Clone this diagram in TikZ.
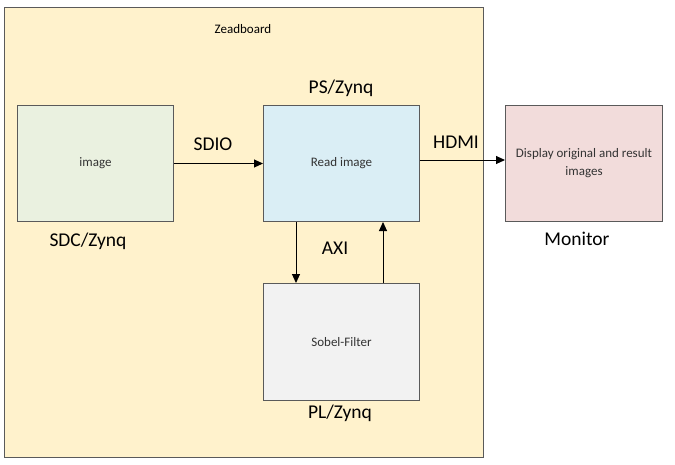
\documentclass[tikz,border=0pt]{standalone}
\usepackage{fontspec}
\setmainfont{Carlito}
\usetikzlibrary{arrows.meta}
\definecolor{boardfill}{HTML}{FFF2CC}
\definecolor{greenfill}{HTML}{EAF1E0}
\definecolor{bluefill}{HTML}{DAEEF5}
\definecolor{redfill}{HTML}{F2DCDB}
\definecolor{grayfill}{HTML}{F2F2F2}
\definecolor{edge}{HTML}{5A5A5A}
\definecolor{txt}{HTML}{333333}
\begin{document}
\begin{tikzpicture}[x=1pt,y=-1pt,
  blockbox/.style={draw=edge,line width=1pt,inner sep=0pt,anchor=north west,
    text=txt,font=\fontsize{13}{18}\selectfont,align=center},
  biglabel/.style={font=\fontsize{19.5}{23}\selectfont,text=black,inner sep=0pt},
  smalllabel/.style={font=\fontsize{13}{16}\selectfont,text=black,inner sep=0pt},
  conn/.style={line width=1pt,-{Triangle[length=9pt,width=8pt]}}]
\useasboundingbox (0,0) rectangle (675,464);
\fill[white] (0,0) rectangle (675,464);
\node[draw=edge,line width=1pt,fill=boardfill,anchor=north west,minimum width=479pt,minimum height=450pt,inner sep=0pt] (board) at (4,7) {};
\node[smalllabel] (zlab) at (243,29) {Zeadboard};
\node[blockbox,fill=greenfill,minimum width=156pt,minimum height=116pt] (img) at (17,105) {image};
\node[blockbox,fill=bluefill,minimum width=156pt,minimum height=116pt] (read) at (263,105) {Read image};
\node[blockbox,fill=redfill,minimum width=157pt,minimum height=116pt] (mon) at (505,105) {Display original and result\\images};
\node[blockbox,fill=grayfill,minimum width=156pt,minimum height=117pt] (sobel) at (263,283) {Sobel-Filter};
\node[biglabel] (pslab) at (341,88) {PS/Zynq};
\node[biglabel] (sdclab) at (88,241) {SDC/Zynq};
\node[biglabel] (sdiolab) at (213,144) {SDIO};
\node[biglabel] (hdmilab) at (456,142) {HDMI};
\node[biglabel] (monlab) at (577,239) {Monitor};
\node[biglabel] (axilab) at (335,248) {AXI};
\node[biglabel] (pllab) at (340,413) {PL/Zynq};
\coordinate (hdmiA) at (419,160);
\coordinate (hdmiB) at (505,160);
\draw[conn] (img.east) -- (read.west);
\draw[conn] (read.east |- hdmiA) -- (mon.west |- hdmiB);
\draw[conn] ([xshift=33pt]read.south west) -- ([xshift=33pt]sobel.north west);
\draw[conn] ([xshift=120pt]sobel.north west) -- ([xshift=120pt]read.south west);
\end{tikzpicture}
\end{document}
